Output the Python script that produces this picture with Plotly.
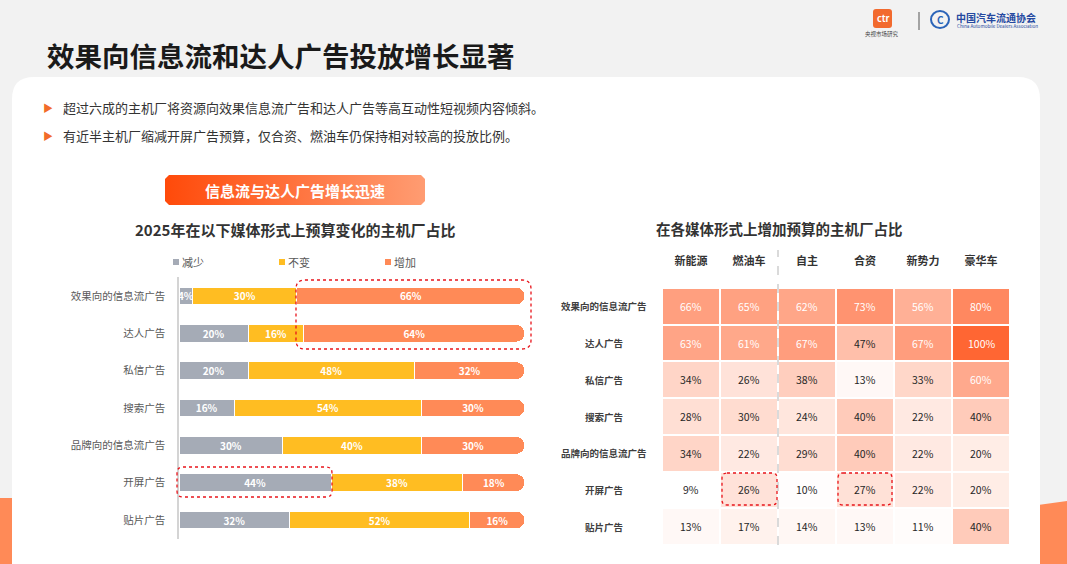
import plotly.graph_objects as go

W, H = 1067, 564
FONT = 'Noto Sans CJK SC'
GRAY = '#a5abb6'; YEL = '#ffbd22'; ORG = '#ff8a57'; RED = '#e8141b'

# ---- data
ad_types = ['效果向的信息流广告', '达人广告', '私信广告', '搜索广告', '品牌向的信息流广告', '开屏广告', '贴片广告']
decrease = [4, 20, 20, 16, 30, 44, 32]
unchanged = [30, 16, 48, 54, 40, 38, 52]
increase = [66, 64, 32, 30, 30, 18, 16]

segments = ['新能源', '燃油车', '自主', '合资', '新势力', '豪华车']
heat = [
    [66, 65, 62, 73, 56, 80],
    [63, 61, 67, 47, 67, 100],
    [34, 26, 38, 13, 33, 60],
    [28, 30, 24, 40, 22, 40],
    [34, 22, 29, 40, 22, 20],
    [9, 26, 10, 27, 22, 20],
    [13, 17, 14, 13, 11, 40],
]

bullets = ['超过六成的主机厂将资源向效果信息流广告和达人广告等高互动性短视频内容倾斜。',
           '有近半主机厂缩减开屏广告预算，仅合资、燃油车仍保持相对较高的投放比例。']


def px(x): return x / W
def py(y): return 1 - y / H


def rrect(x0, y0, x1, y1, r):
    pts = [('M', x0 + r, y0), ('L', x1 - r, y0), ('Q', x1, y0, x1, y0 + r), ('L', x1, y1 - r),
           ('Q', x1, y1, x1 - r, y1), ('L', x0 + r, y1), ('Q', x0, y1, x0, y1 - r), ('L', x0, y0 + r),
           ('Q', x0, y0, x0 + r, y0)]
    s = ''
    for p in pts:
        c = p[0]; v = p[1:]
        s += c + ' ' + ' '.join(f'{px(v[i]):.5f},{py(v[i+1]):.5f}' for i in range(0, len(v), 2)) + ' '
    return s + 'Z'


fig = go.Figure()

# stacked bars
for name, vals, col in [('减少', decrease, GRAY), ('不变', unchanged, YEL), ('增加', increase, ORG)]:
    fig.add_trace(go.Bar(y=ad_types, x=vals, orientation='h', name=name,
                         marker=dict(color=col, line=dict(color='white', width=1)),
                         texttemplate='<b>%{x}%</b>', textposition='inside', insidetextanchor='middle',
                         textangle=0, textfont=dict(color='white', size=10, family=FONT),
                         constraintext='none', hoverinfo='skip', xaxis='x', yaxis='y'))

# heatmap
fig.add_trace(go.Heatmap(z=heat, x=segments, y=ad_types, colorscale=[[0, '#ffffff'], [1, '#ff6633']],
                         zmin=9, zmax=100, showscale=False, xgap=2, ygap=2, hoverinfo='skip',
                         xaxis='x2', yaxis='y2'))

# gradient banner on an overlay pixel axis
bx0, by0, bx1, by1, br = 165, 175, 425, 205, 4
bxs = [bx0 + br, bx1 - br, bx1, bx1, bx1 - br, bx0 + br, bx0, bx0, bx0 + br]
bys = [by0, by0, by0 + br, by1 - br, by1, by1, by1 - br, by0 + br, by0]
fig.add_trace(go.Scatter(x=bxs, y=bys, mode='lines', fill='toself', line=dict(width=0),
                         fillgradient=dict(type='horizontal', colorscale=[[0, '#ff4a0a'], [1, '#ff9c72']]),
                         hoverinfo='skip', xaxis='x3', yaxis='y3'))

shapes = [
    dict(type='rect', xref='paper', yref='paper', x0=0, x1=px(14), y0=0, y1=py(498),
         fillcolor='#ff8a57', line_width=0, layer='below'),
    dict(type='path', xref='paper', yref='paper',
         path=f'M {px(1038)},{py(505)} L 1,{py(501)} L 1,0 L {px(1038)},0 Z',
         fillcolor='#ff8a57', line_width=0, layer='below'),
    dict(type='path', xref='paper', yref='paper', path=rrect(12, 77, 1040, 600, 22),
         fillcolor='white', line_width=0, layer='below'),
    # logos
    dict(type='path', xref='paper', yref='paper', path=rrect(873, 9, 892, 28, 3),
         fillcolor='#f26a2e', line_width=0),
    dict(type='line', xref='paper', yref='paper', x0=px(919), x1=px(919), y0=py(12), y1=py(30),
         line=dict(color='#555', width=1)),
    dict(type='circle', xref='paper', yref='paper', x0=px(931), x1=px(949), y0=py(28), y1=py(11),
         line=dict(color='#2b64b8', width=2)),
    # heatmap divider
    dict(type='line', xref='x2', yref='paper', x0=1.5, x1=1.5, y0=py(545), y1=py(250),
         line=dict(color='#b5b5b5', width=1, dash='dash')),
    # red dotted highlights
    dict(type='path', xref='paper', yref='paper', path=rrect(296, 280, 531, 349, 9),
         line=dict(color=RED, width=1.3, dash='dot')),
    dict(type='path', xref='paper', yref='paper', path=rrect(177, 467, 332, 497, 6),
         line=dict(color=RED, width=1.3, dash='dot')),
    dict(type='path', xref='paper', yref='paper', path=rrect(722, 473, 777, 505, 5),
         line=dict(color=RED, width=1.3, dash='dot')),
    dict(type='path', xref='paper', yref='paper', path=rrect(838, 473, 892, 505, 5),
         line=dict(color=RED, width=1.3, dash='dot')),
]
# legend squares
for x0, col in [(173, GRAY), (279, YEL), (385, ORG)]:
    shapes.append(dict(type='rect', xref='paper', yref='paper', x0=px(x0), x1=px(x0 + 6),
                       y0=py(265), y1=py(259), fillcolor=col, line_width=0))

ann = []
def txt(x, y, s, size, color='#333', xanchor='left', **kw):
    ann.append(dict(x=px(x), y=py(y), xref='paper', yref='paper', text=s, showarrow=False,
                    xanchor=xanchor, yanchor='middle', font=dict(size=size, color=color, family=FONT), **kw))

txt(45, 55, '<b>效果向信息流和达人广告投放增长显著</b>', 27.5, '#1a1a1a')
for i, b in enumerate(bullets):
    txt(41, 108 + 27 * i, '▶', 10, '#f26b2a')
    txt(61, 108 + 27 * i, b, 13, '#333')
txt(295, 190, '<b>信息流与达人广告增长迅速</b>', 15, 'white', 'center')
txt(295, 229, '<b>2025年在以下媒体形式上预算变化的主机厂占比</b>', 15, '#333', 'center')
txt(779, 228, '<b>在各媒体形式上增加预算的主机厂占比</b>', 14.5, '#333', 'center')
for x0, name in [(180, '减少'), (286, '不变'), (392, '增加')]:
    txt(x0, 262, name, 11, '#595959')
# logo text
txt(882.5, 18.5, '<b>ctr</b>', 9, 'white', 'center')
txt(882, 34, '央视市场研究', 5.5, '#444', 'center')
txt(954, 17, '<b>中国汽车流通协会</b>', 10, '#2448a0')
txt(955, 26, 'China Automobile Dealers Association', 4.6, '#2448a0')
txt(940, 19.5, '<b>C</b>', 10, '#2b64b8', 'center')

# heatmap row labels and cell values
for i, row in enumerate(ad_types):
    ann.append(dict(x=px(604), xref='paper', y=row, yref='y2', text=f'<b>{row}</b>', showarrow=False,
                    xanchor='center', font=dict(size=9.5, color='#404040', family=FONT)))
    for j, seg in enumerate(segments):
        v = heat[i][j]
        ann.append(dict(x=seg, y=row, xref='x2', yref='y2', text=f'{v}%', showarrow=False,
                        font=dict(size=10.5, color='white' if v >= 50 else '#262626', family=FONT)))

fig.update_layout(
    width=W, height=H, margin=dict(l=0, r=0, t=0, b=0),
    paper_bgcolor='#f2f2f2', plot_bgcolor='rgba(0,0,0,0)',
    font=dict(family=FONT), showlegend=False, hovermode=False,
    barmode='stack', bargap=0.52, barcornerradius=9,
    uniformtext=dict(mode='show', minsize=10),
    xaxis=dict(domain=[px(179), px(525)], range=[0, 100], visible=False, fixedrange=True),
    yaxis=dict(domain=[py(538.7), py(277.3)], autorange='reversed', showline=True,
               linecolor='#d4d4d4', linewidth=1.5, ticks='', showgrid=False,
               tickfont=dict(size=10.5, color='#595959', family=FONT), ticklabelstandoff=10),
    xaxis2=dict(domain=[px(662), px(1010)], side='top', ticks='', showgrid=False, showline=False,
                tickvals=segments, ticktext=[f'<b>{s}</b>' for s in segments],
                tickfont=dict(size=11, color='#333', family=FONT), ticklabelstandoff=9, zeroline=False),
    yaxis2=dict(domain=[py(545), py(288)], autorange='reversed', showticklabels=False, ticks='',
                showgrid=False, showline=False, zeroline=False),
    xaxis3=dict(domain=[0, 1], range=[0, W], visible=False, fixedrange=True),
    yaxis3=dict(domain=[0, 1], range=[H, 0], visible=False, fixedrange=True),
    shapes=shapes, annotations=ann,
)

fig.write_html('out.html', config={'displayModeBar': False},
               post_script="document.body.style.margin='0';document.body.style.overflow='hidden';")
